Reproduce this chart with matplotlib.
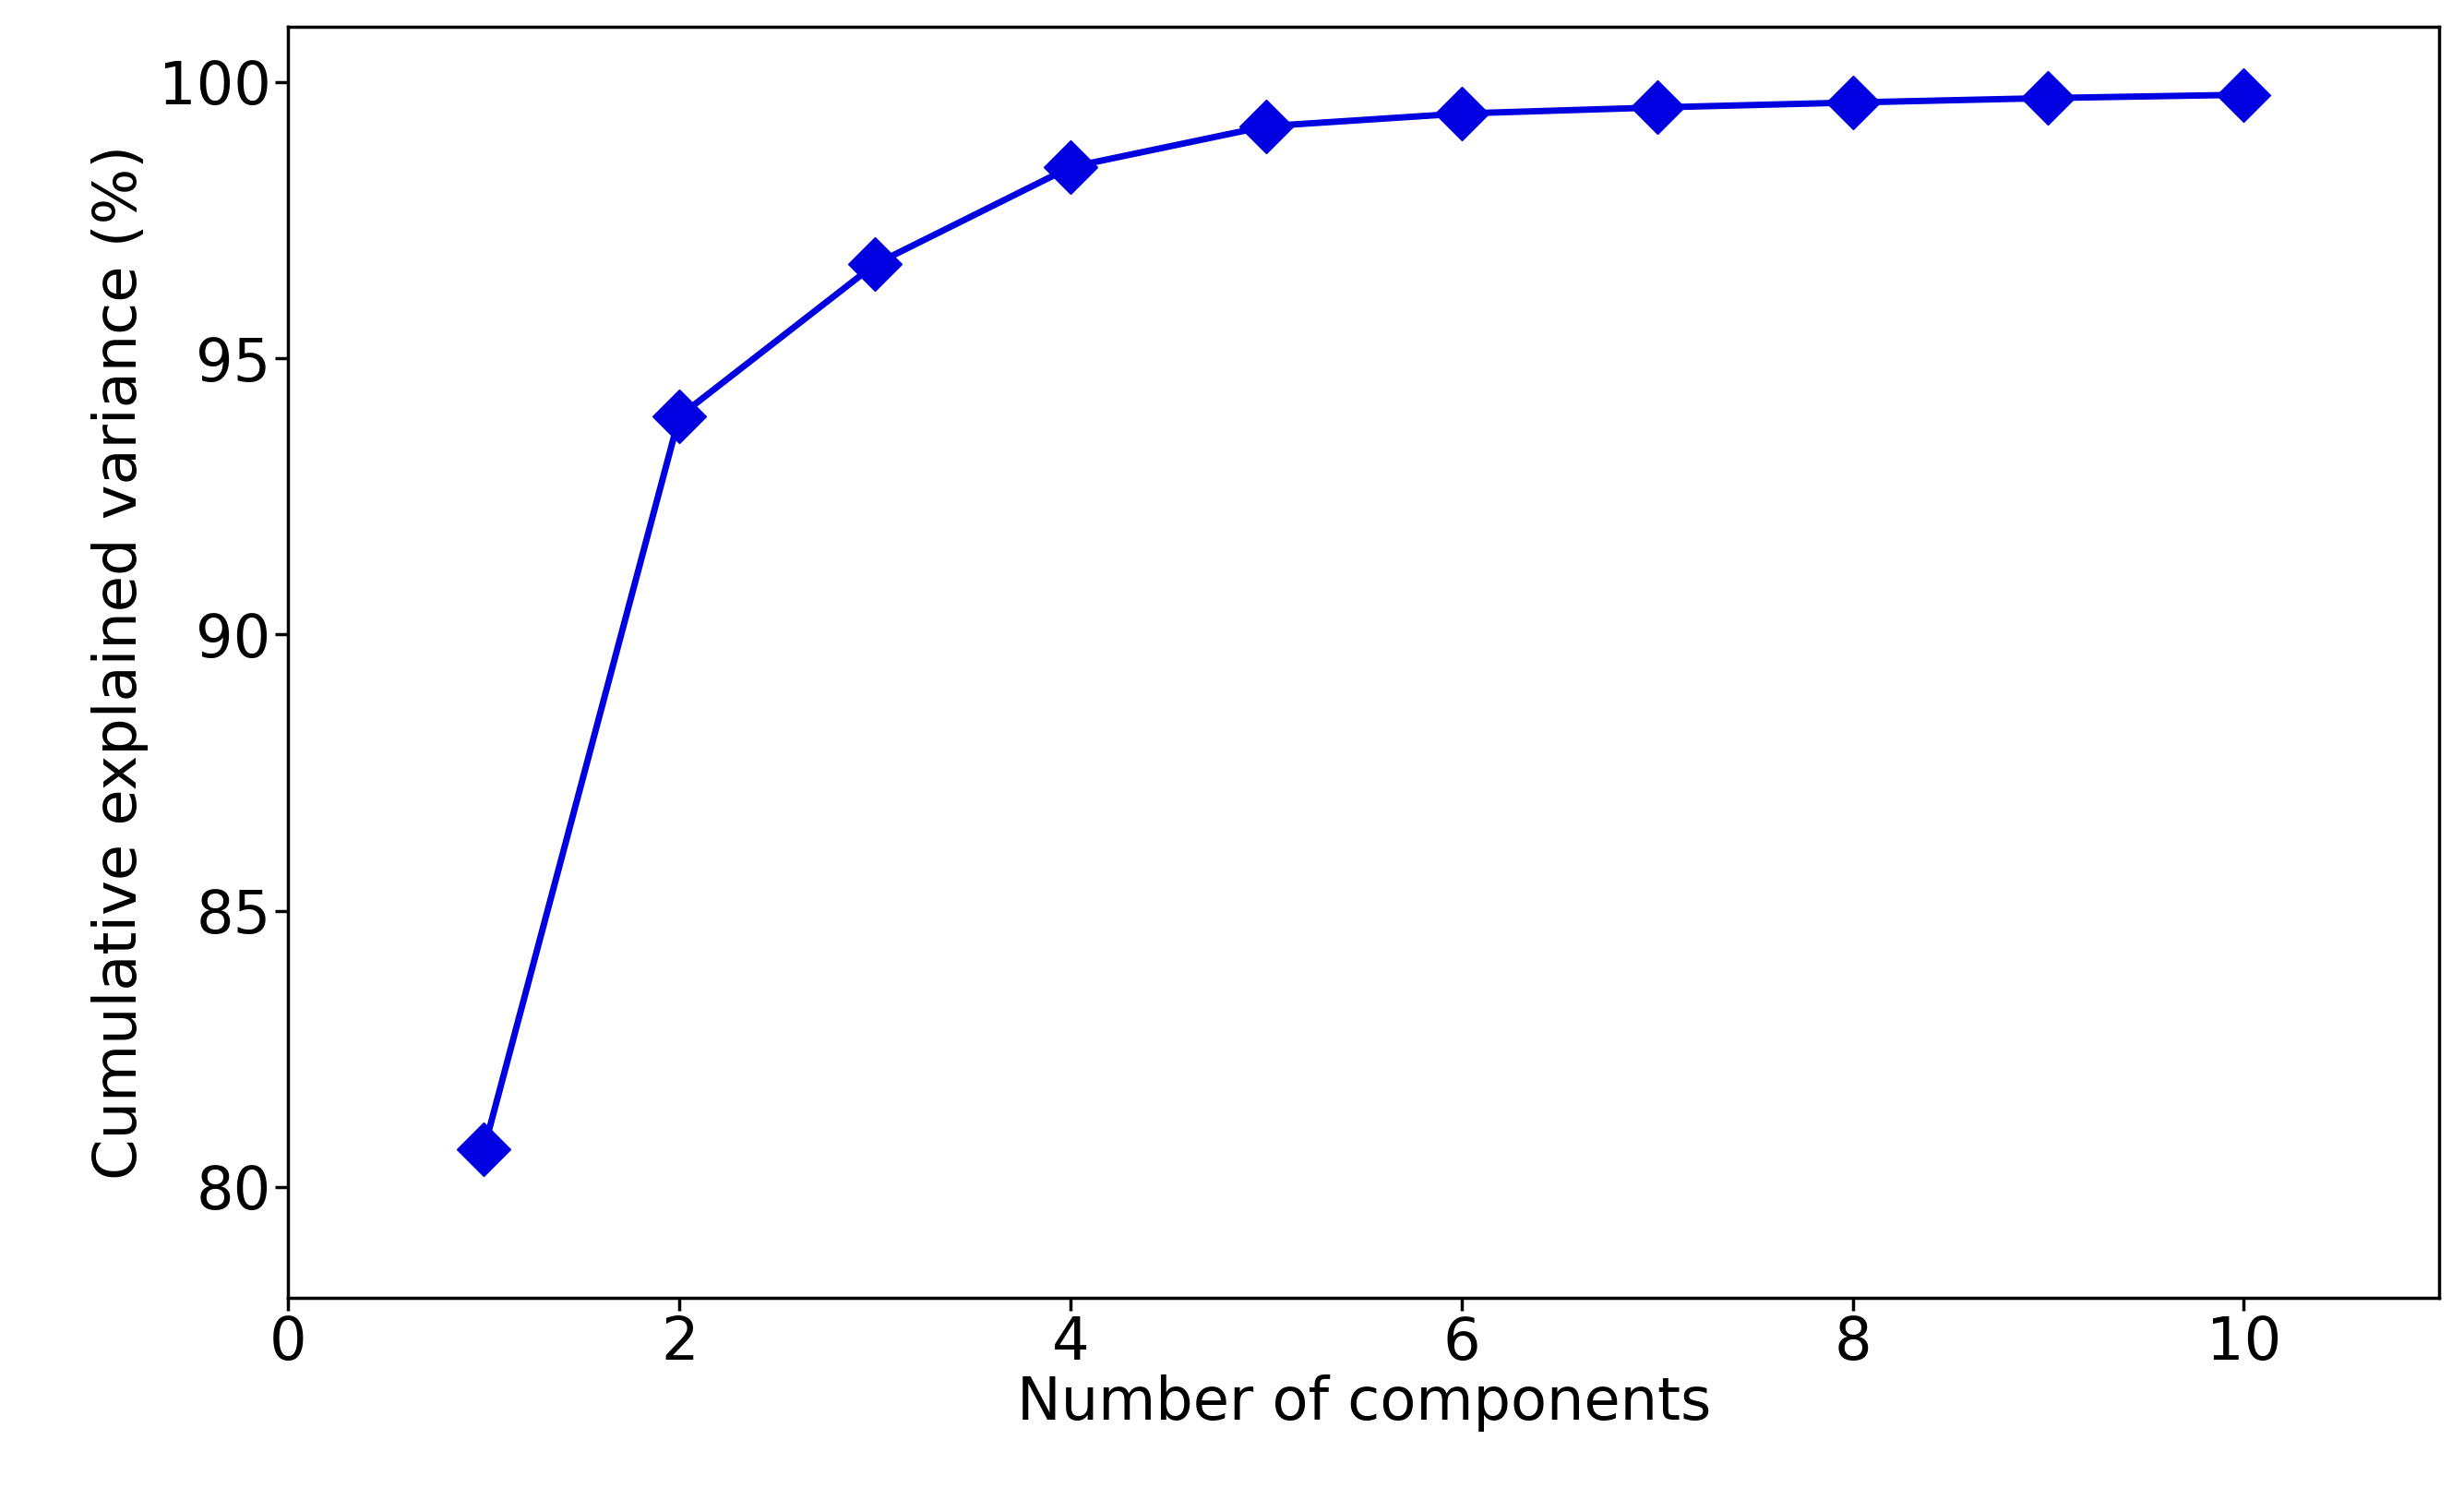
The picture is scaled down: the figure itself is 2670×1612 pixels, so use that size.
import matplotlib
matplotlib.use("Agg")
import matplotlib.pyplot as plt

components = [1, 2, 3, 4, 5, 6, 7, 8, 9, 10]
cum_var = [80.68, 93.95, 96.7, 98.46, 99.2, 99.43, 99.54, 99.63, 99.71, 99.77]
xticks = [0, 2, 4, 6, 8, 10]
yticks = [80, 85, 90, 95, 100]

fig = plt.figure(figsize=(26.7, 16.12), dpi=100)
ax = fig.add_axes([0.117, 0.128, 0.873, 0.854])
ax.plot(components, cum_var, color='#0000e0', marker='D', markersize=30, linewidth=5)
ax.set_xlim(0, 11)
ax.set_ylim(78, 101)
ax.set_xticks(xticks)
ax.set_yticks(yticks)
ax.tick_params(labelsize=46, length=10, width=2.5)
for s in ax.spines.values():
    s.set_linewidth(2.5)
ax.set_xlabel('Number of components', fontsize=46, labelpad=2)
ax.set_ylabel('Cumulative explained variance (%)', fontsize=46, labelpad=8)
fig.savefig('out.png', dpi=100)
